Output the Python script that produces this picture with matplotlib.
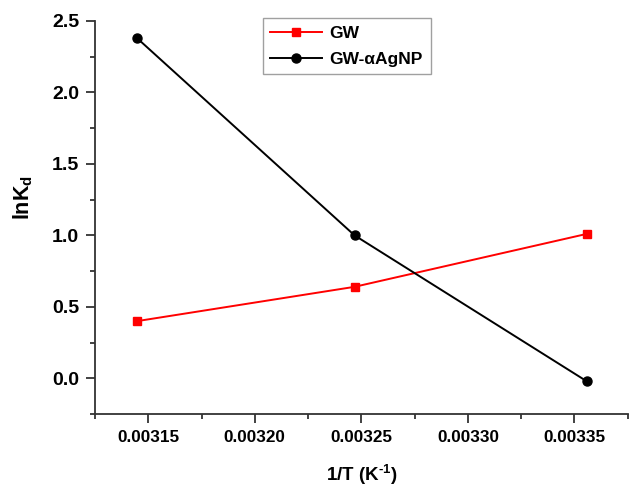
import matplotlib
matplotlib.use("Agg")
import matplotlib.pyplot as plt
from matplotlib.ticker import MultipleLocator, FormatStrFormatter

temps_inv = [0.0031447, 0.0032468, 0.0033557]
gw = [0.40, 0.64, 1.01]
gw_agnp = [2.38, 1.00, -0.02]
series_names = ["GW", "GW-\u03b1AgNP"]

plt.rcParams['font.family'] = ['Liberation Sans', 'DejaVu Sans']
plt.rcParams['font.weight'] = 'bold'
plt.rcParams['mathtext.fontset'] = 'custom'
plt.rcParams['mathtext.rm'] = 'Liberation Sans:bold'
plt.rcParams['mathtext.bf'] = 'Liberation Sans:bold'
plt.rcParams['mathtext.it'] = 'Liberation Sans:bold'

fig = plt.figure(figsize=(6.29, 4.86), dpi=100)
ax = fig.add_axes([0.151, 0.148, 0.847, 0.809])

ax.plot(temps_inv, gw, color='#ff0000', marker='s', markersize=6, lw=1.4, label=series_names[0])
ax.plot(temps_inv, gw_agnp, color='black', marker='o', markersize=6.5, lw=1.4, label=series_names[1])

ax.set_xlim(0.003125, 0.003375)
ax.set_ylim(-0.25, 2.5)
ax.xaxis.set_major_locator(MultipleLocator(0.00005))
ax.xaxis.set_minor_locator(MultipleLocator(0.000025))
ax.xaxis.set_major_formatter(FormatStrFormatter('%.5f'))
ax.yaxis.set_major_locator(MultipleLocator(0.5))
ax.yaxis.set_minor_locator(MultipleLocator(0.25))
ax.yaxis.set_major_formatter(FormatStrFormatter('%.1f'))

for s in ['top', 'right']:
    ax.spines[s].set_visible(False)
for s in ['left', 'bottom']:
    ax.spines[s].set_linewidth(1.3)
    ax.spines[s].set_color('#333333')

ax.tick_params(which='major', direction='out', length=6.5, width=1.3, color='#333333', pad=5)
ax.tick_params(which='minor', direction='out', length=3.5, width=1.3, color='#333333')
ax.tick_params(axis='x', labelsize=12.3)
ax.tick_params(axis='y', labelsize=14)
for lab in ax.get_xticklabels() + ax.get_yticklabels():
    lab.set_fontweight('bold')

ax.set_xlabel('1/T (K$^{\u2010\\mathregular{1}}$)', fontsize=13.5, fontweight='bold', labelpad=13)
ax.set_ylabel('lnK$_{\\mathregular{d}}$', fontsize=15.5, fontweight='bold')
ax.yaxis.set_label_coords(-0.112, 0.552)

leg = ax.legend(loc='upper left', bbox_to_anchor=(0.3146, 1.007), frameon=True,
                fancybox=False, edgecolor='#888888', handlelength=3.0, borderpad=0.45,
                labelspacing=0.6, handletextpad=0.4, borderaxespad=0,
                prop={'weight': 'bold', 'size': 12.5})
leg.get_frame().set_linewidth(1.0)

fig.savefig('out.png', dpi=100)
